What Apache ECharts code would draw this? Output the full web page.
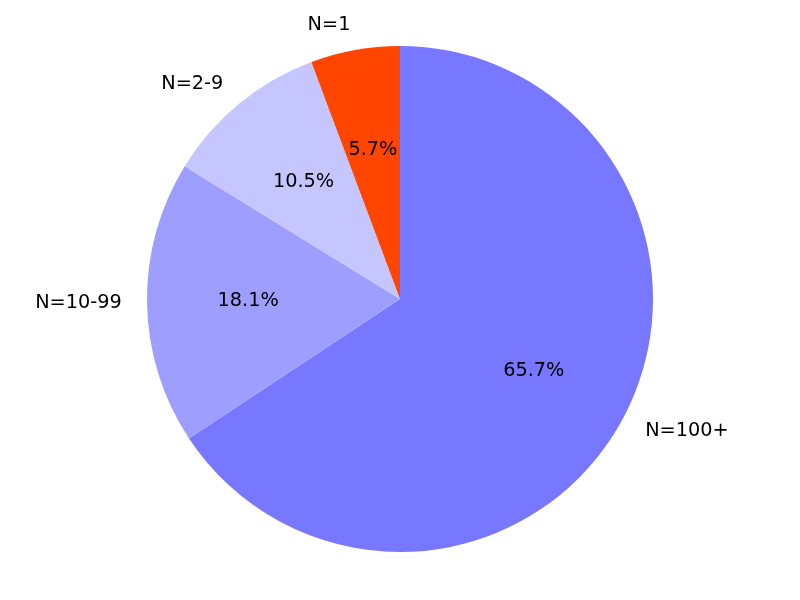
<!DOCTYPE html>
<html>
<head>
<meta charset="utf-8">
<script src="https://cdn.jsdelivr.net/npm/echarts@6/dist/echarts.min.js"></script>
<style>html,body{margin:0;padding:0;background:#fff}#c{width:800px;height:600px}</style>
</head>
<body>
<div id="c"></div>
<script>
const categories = ['N=100+', 'N=10-99', 'N=2-9', 'N=1'];
const shares = [65.7, 18.1, 10.5, 5.7];
const colors = ['#7777ff', '#9e9eff', '#c5c5ff', '#ff4500'];

const R = 253;
const chart = echarts.init(document.getElementById('c'));
const font = {fontFamily: 'DejaVu Sans', fontSize: 19.3, color: '#000'};
chart.setOption({
  animation: false,
  series: [
    {
      type: 'pie', center: [400, 299], radius: [0, R], startAngle: 90, clockwise: true,
      avoidLabelOverlap: false, silent: true,
      data: categories.map((n, i) => ({name: n, value: shares[i], itemStyle: {color: colors[i]}})),
      label: Object.assign({show: true, position: 'outside', formatter: '{b}', distanceToLabelLine: 0}, font),
      labelLine: {show: false, length: R * 0.1, length2: 0},
      emphasis: {disabled: true}
    },
    {
      type: 'pie', center: [400, 299], radius: [0, R * 1.177], startAngle: 90, clockwise: true,
      avoidLabelOverlap: false, silent: true, z: 5,
      data: categories.map((n, i) => ({name: n, value: shares[i], itemStyle: {color: 'rgba(0,0,0,0)'}})),
      label: Object.assign({show: true, position: 'inside', formatter: p => p.value.toFixed(1) + '%'}, font),
      labelLine: {show: false},
      emphasis: {disabled: true}
    }
  ]
});
</script>
</body>
</html>
